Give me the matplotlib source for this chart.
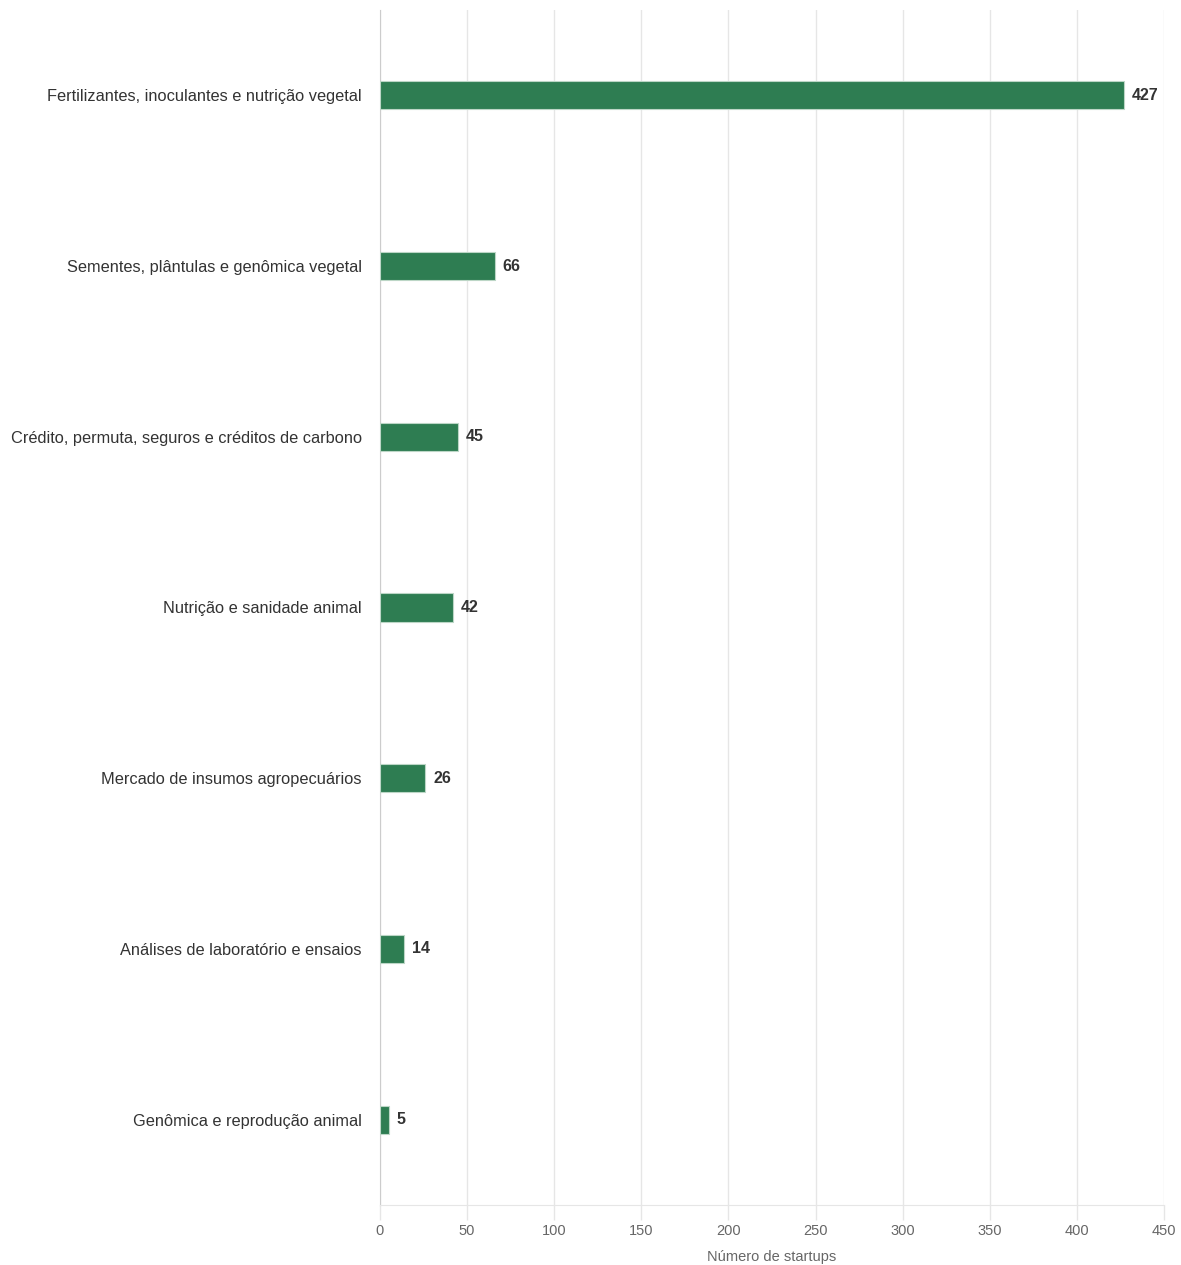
import matplotlib.pyplot as plt

categories = [
    "Fertilizantes, inoculantes e nutrição vegetal",
    "Sementes, plântulas e genômica vegetal",
    "Crédito, permuta, seguros e créditos de carbono",
    "Nutrição e sanidade animal",
    "Mercado de insumos agropecuários",
    "Análises de laboratório e ensaios",
    "Genômica e reprodução animal",
]
values = [427, 66, 45, 42, 26, 14, 5]
x_ticks = [0, 50, 100, 150, 200, 250, 300, 350, 400, 450]


def main():
    plt.rcParams["font.family"] = ["Liberation Sans", "DejaVu Sans"]
    fig = plt.figure(figsize=(11.81, 12.65), dpi=100)
    ax = fig.add_axes([380 / 1181, 1 - 1205 / 1265, 784 / 1181, 1195 / 1265])

    pos = list(range(len(categories)))
    ax.barh(pos, values, height=0.165, color="#2e7d52",
            edgecolor="#bcd6c6", linewidth=0.8, zorder=3)
    for p, v in zip(pos, values):
        ax.text(v + 4.5, p, str(v), va="center", ha="left",
                fontsize=11.5, fontweight="bold", color="#333333")

    ax.set_ylim(len(categories) - 0.5, -0.5)
    ax.set_xlim(0, 450)
    ax.set_yticks(pos)
    ax.set_yticklabels(categories, fontsize=11.75, color="#333333")
    ax.set_xticks(x_ticks)
    ax.tick_params(axis="x", colors="#e6e6e6", labelcolor="#666666",
                   labelsize=10.5, length=11, width=1, pad=3)
    ax.tick_params(axis="y", length=0, pad=13)
    ax.grid(axis="x", color="#e6e6e6", linewidth=1, zorder=0)
    for s in ["top", "right"]:
        ax.spines[s].set_visible(False)
    ax.spines["left"].set_color("#cccccc")
    ax.spines["bottom"].set_color("#e6e6e6")
    ax.set_xlabel("Número de startups", fontsize=10.5, color="#666666", labelpad=8)

    fig.savefig("out.png", dpi=100)


if __name__ == "__main__":
    main()
